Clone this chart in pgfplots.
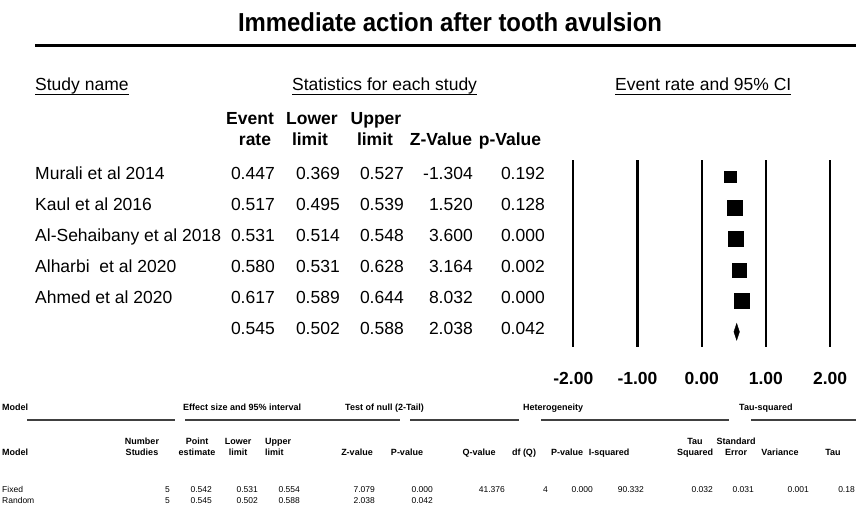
\documentclass[border=0pt]{standalone}
\usepackage{fontspec}
\setmainfont{Liberation Sans}
\usepackage{pgfplots}
\pgfplotsset{compat=1.18}
\newcommand\mf{\fontsize{17.5}{21}\selectfont}
\newcommand\hf{\fontsize{17.5}{21}\selectfont\bfseries}
\newcommand\sbf{\fontsize{9}{10}\selectfont\bfseries}
\newcommand\smf{\fontsize{8.5}{10}\selectfont}
\begin{document}
\begin{tikzpicture}
\useasboundingbox (0,0) rectangle (856pt,-505pt);
\begin{axis}[
  at={(566.9pt,-347pt)}, anchor=south west,
  scale only axis, width=269.6pt, height=187pt,
  xmin=-2.1, xmax=2.1, ymin=-0.54, ymax=5.49, y dir=reverse,
  axis line style={draw=none}, major tick length=0pt,
  xtick={-2,-1,0,1,2}, xticklabels={-2.00,-1.00,0.00,1.00,2.00},
  ytick=\empty,
  xmajorgrids, grid style={black, line width=2.2pt},
  xticklabel style={font=\hf, anchor=mid, yshift=-34.7pt},
  clip=false,
]
% confidence intervals
\addplot[black, line width=1pt] coordinates {(0.369,0) (0.527,0)};
\addplot[black, line width=1pt] coordinates {(0.495,1) (0.539,1)};
\addplot[black, line width=1pt] coordinates {(0.514,2) (0.548,2)};
\addplot[black, line width=1pt] coordinates {(0.531,3) (0.628,3)};
\addplot[black, line width=1pt] coordinates {(0.589,4) (0.644,4)};
% point estimates
\addplot[only marks, mark=square*, mark size=5.85pt, black] coordinates {(0.447,0)};
\addplot[only marks, mark=square*, mark size=7.2pt, black] coordinates {(0.517,1)};
\addplot[only marks, mark=square*, mark size=7.4pt, black] coordinates {(0.531,2)};
\addplot[only marks, mark=square*, mark size=7.0pt, black] coordinates {(0.580,3)};
\addplot[only marks, mark=square*, mark size=7.4pt, black] coordinates {(0.617,4)};
% summary diamond
\addplot[black, fill=black] coordinates {(0.502,5) (0.545,4.73) (0.588,5) (0.545,5.27)} --cycle;
\end{axis}
\begin{scope}[x=1pt,y=-1pt]
% title
\node[font=\fontsize{26}{30}\selectfont\bfseries] at (450,22) {\scalebox{0.92}[1]{Immediate action after tooth avulsion}};
\draw[line width=3pt] (35,45.5) -- (856,45.5);
% section headers
\node[font=\mf, anchor=mid west, inner sep=0] (a) at (35,88) {Study name};
\draw[line width=1pt] ([yshift=-3.5pt]a.base west) -- ([yshift=-3.5pt]a.base east);
\node[font=\mf, anchor=mid west, inner sep=0] (b) at (292,88) {Statistics for each study};
\draw[line width=1pt] ([yshift=-3.5pt]b.base west) -- ([yshift=-3.5pt]b.base east);
\node[font=\mf, anchor=mid west, inner sep=0] (c) at (615,88) {Event rate and 95\% CI};
\draw[line width=1pt] ([yshift=-3.5pt]c.base west) -- ([yshift=-3.5pt]c.base east);
% column headers
\node[font=\hf, anchor=mid, inner sep=0] at (250,122) {Event};
\node[font=\hf, anchor=mid, inner sep=0] at (255,143) {rate};
\node[font=\hf, anchor=mid, inner sep=0] at (312,122) {Lower};
\node[font=\hf, anchor=mid, inner sep=0] at (310,143) {limit};
\node[font=\hf, anchor=mid, inner sep=0] at (376,122) {Upper};
\node[font=\hf, anchor=mid, inner sep=0] at (375,143) {limit};
\node[font=\hf, anchor=mid, inner sep=0] at (441,143) {Z-Value};
\node[font=\hf, anchor=mid, inner sep=0] at (510,143) {p-Value};
% rows
\begin{scope}[every node/.style={font=\mf, inner sep=0}]
\node[anchor=mid west] at (35,176.7) {Murali et al 2014};
\node[anchor=mid west] at (35,207.7) {Kaul et al 2016};
\node[anchor=mid west] at (35,238.7) {Al-Sehaibany et al 2018};
\node[anchor=mid west] at (35,269.7) {Alharbi\ \ et al 2020};
\node[anchor=mid west] at (35,300.7) {Ahmed et al 2020};
\node[anchor=mid east] at (275,176.7) {0.447};
\node[anchor=mid east] at (340,176.7) {0.369};
\node[anchor=mid east] at (404,176.7) {0.527};
\node[anchor=mid east] at (473,176.7) {-1.304};
\node[anchor=mid east] at (545,176.7) {0.192};
\node[anchor=mid east] at (275,207.7) {0.517};
\node[anchor=mid east] at (340,207.7) {0.495};
\node[anchor=mid east] at (404,207.7) {0.539};
\node[anchor=mid east] at (473,207.7) {1.520};
\node[anchor=mid east] at (545,207.7) {0.128};
\node[anchor=mid east] at (275,238.7) {0.531};
\node[anchor=mid east] at (340,238.7) {0.514};
\node[anchor=mid east] at (404,238.7) {0.548};
\node[anchor=mid east] at (473,238.7) {3.600};
\node[anchor=mid east] at (545,238.7) {0.000};
\node[anchor=mid east] at (275,269.7) {0.580};
\node[anchor=mid east] at (340,269.7) {0.531};
\node[anchor=mid east] at (404,269.7) {0.628};
\node[anchor=mid east] at (473,269.7) {3.164};
\node[anchor=mid east] at (545,269.7) {0.002};
\node[anchor=mid east] at (275,300.7) {0.617};
\node[anchor=mid east] at (340,300.7) {0.589};
\node[anchor=mid east] at (404,300.7) {0.644};
\node[anchor=mid east] at (473,300.7) {8.032};
\node[anchor=mid east] at (545,300.7) {0.000};
\node[anchor=mid east] at (275,331.7) {0.545};
\node[anchor=mid east] at (340,331.7) {0.502};
\node[anchor=mid east] at (404,331.7) {0.588};
\node[anchor=mid east] at (473,331.7) {2.038};
\node[anchor=mid east] at (545,331.7) {0.042};
\end{scope}
% bottom table
\begin{scope}[every node/.style={font=\sbf, inner sep=0}]
\node[anchor=mid west] at (2,408) {Model};
\node[anchor=mid west] at (183,408) {Effect size and 95\% interval};
\node[anchor=mid west] at (345,408) {Test of null (2-Tail)};
\node[anchor=mid west] at (523,408) {Heterogeneity};
\node[anchor=mid west] at (739,408) {Tau-squared};
\node[anchor=mid west] at (2,453) {Model};
\node[anchor=mid] at (142,442) {Number};
\node[anchor=mid] at (142,453) {Studies};
\node[anchor=mid] at (197,442) {Point};
\node[anchor=mid] at (197,453) {estimate};
\node[anchor=mid] at (238,442) {Lower};
\node[anchor=mid] at (238,453) {limit};
\node[anchor=mid west] at (265,442) {Upper};
\node[anchor=mid west] at (265,453) {limit};
\node[anchor=mid] at (357,453) {Z-value};
\node[anchor=mid] at (407,453) {P-value};
\node[anchor=mid] at (479,453) {Q-value};
\node[anchor=mid] at (524,453) {df (Q)};
\node[anchor=mid] at (567,453) {P-value};
\node[anchor=mid] at (609,453) {I-squared};
\node[anchor=mid] at (695,442) {Tau};
\node[anchor=mid] at (695,453) {Squared};
\node[anchor=mid] at (736,442) {Standard};
\node[anchor=mid] at (736,453) {Error};
\node[anchor=mid] at (780,453) {Variance};
\node[anchor=mid] at (833,453) {Tau};
\end{scope}
\foreach \a/\b in {27/175,185/400,410/519,541/729,751/856}
  \draw[black!75, line width=1.2pt] (\a,420) -- (\b,420);
\begin{scope}[every node/.style={font=\smf, inner sep=0}]
\node[anchor=mid west] at (2,490) {Fixed};
\node[anchor=mid west] at (2,501) {Random};
\node[anchor=mid east] at (170,490) {5};
\node[anchor=mid east] at (212,490) {0.542};
\node[anchor=mid east] at (258,490) {0.531};
\node[anchor=mid east] at (300,490) {0.554};
\node[anchor=mid east] at (375,490) {7.079};
\node[anchor=mid east] at (433,490) {0.000};
\node[anchor=mid east] at (505,490) {41.376};
\node[anchor=mid east] at (548,490) {4};
\node[anchor=mid east] at (593,490) {0.000};
\node[anchor=mid east] at (644,490) {90.332};
\node[anchor=mid east] at (713,490) {0.032};
\node[anchor=mid east] at (754,490) {0.031};
\node[anchor=mid east] at (809,490) {0.001};
\node[anchor=mid east] at (855,490) {0.18};
\node[anchor=mid east] at (170,501) {5};
\node[anchor=mid east] at (212,501) {0.545};
\node[anchor=mid east] at (258,501) {0.502};
\node[anchor=mid east] at (300,501) {0.588};
\node[anchor=mid east] at (375,501) {2.038};
\node[anchor=mid east] at (433,501) {0.042};
\end{scope}
\end{scope}
\end{tikzpicture}
\end{document}
